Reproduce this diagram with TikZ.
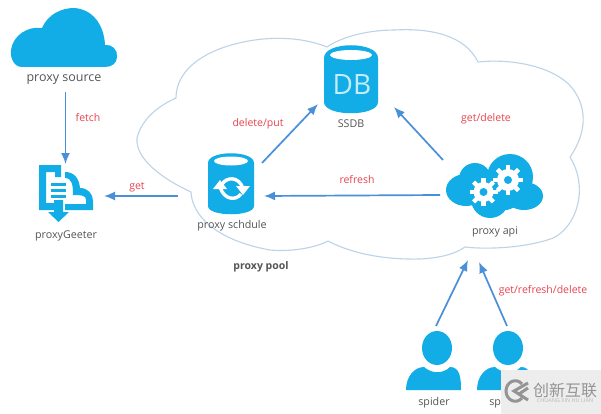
\documentclass[tikz,border=0pt]{standalone}
\usepackage{fontspec}
\setmainfont{Open Sans}
\newfontfamily\cjkfont{Noto Sans CJK SC}
\usetikzlibrary{arrows.meta}
\definecolor{iconblue}{HTML}{12ADE6}
\definecolor{arrowblue}{HTML}{4A90D9}
\definecolor{cloudline}{HTML}{BCD3E8}
\definecolor{redlabel}{HTML}{E8434F}
\definecolor{greylabel}{HTML}{555555}
\tikzset{
  flow/.style={draw=arrowblue,line width=1.7pt,-{Latex[length=11pt,width=9pt]}},
  edgelabel/.style={text=redlabel,font=\fontsize{10.5}{12}\selectfont,inner sep=0pt},
  iconlabel/.style={text=greylabel,font=\fontsize{10.7}{12}\selectfont,inner sep=0pt}
}
\begin{document}
\begin{tikzpicture}[x=1pt,y=-1pt]
\useasboundingbox (0,0) rectangle (601,414);
\fill[white] (0,0) rectangle (601,414);
% big cloud
\draw[cloudline,line width=1.1pt]
 (327,47) .. controls (300,36) and (265,36) .. (235,44)
 .. controls (200,53) and (176,72) .. (176,98)
 .. controls (160,105) and (142,118) .. (137,138)
 .. controls (135,160) and (165,180) .. (191,192)
 .. controls (192,215) and (215,240) .. (270,250)
 .. controls (290,252) and (315,248) .. (328,241)
 .. controls (345,250) and (375,260) .. (420,259)
 .. controls (440,258) and (455,254) .. (465,247)
 .. controls (490,250) and (530,247) .. (553,238)
 .. controls (575,228) and (590,190) .. (570,157)
 .. controls (582,140) and (590,115) .. (575,92)
 .. controls (560,68) and (515,58) .. (478,62)
 .. controls (465,35) and (430,28) .. (395,30)
 .. controls (365,30) and (340,38) .. (327,47);
% proxy source cloud
\fill[iconblue] (22,67) .. controls (14,67) and (10,58) .. (11,50)
 .. controls (13,35) and (28,26) .. (42,28)
 .. controls (48,14) and (62,8) .. (74,8)
 .. controls (92,9) and (104,24) .. (105,45)
 .. controls (112,44) and (118,50) .. (117,57)
 .. controls (117,63) and (112,67) .. (105,67) -- cycle;
\node[iconlabel,font=\fontsize{12.5}{14}\selectfont] (source) at (64,80) {proxy source};
\coordinate (sourceout) at (65.5,92);
% proxyGeeter icon
\fill[iconblue] (39,165) -- (61,165) -- (61,177) -- (55,177) -- (55,172) -- (46,172) -- (46,203) -- (56,203) -- (56,210) -- (39,210) -- cycle;
\fill[iconblue] (65,172) .. controls (74,172) and (79,178) .. (80,188)
 .. controls (88,188) and (93,194) .. (93,201) -- (93,210) -- (65,210) -- (65,204) -- (86,204) -- (86,200) .. controls (86,196) and (83,195) .. (73,195)
 .. controls (73,185) and (72,178) .. (65,178) -- cycle;
\fill[iconblue] (51,182.5) rectangle (66,185.5);
\fill[iconblue] (51,188.5) rectangle (66,191.5);
\fill[iconblue] (51,194.5) rectangle (66,197.5);
\fill[iconblue] (54,200) -- (63,200) -- (63,212) -- (69,212) -- (58.5,222) -- (48,212) -- (54,212) -- cycle;
\node[iconlabel] (geeter) at (66,236) {proxyGeeter};
\coordinate (geeterin) at (65.5,164);
\coordinate (geeterout) at (104,196);
% schedule icon
\fill[iconblue] (208,163) .. controls (208,150) and (254,150) .. (254,163) -- (254,206) .. controls (254,217) and (208,217) .. (208,206) -- cycle;
\fill[white] (231,161) ellipse (17pt and 4.5pt);
\draw[white,line width=3.4pt] (222,184) .. controls (227,177) and (238,176) .. (243,188);
\draw[white,line width=3.4pt] (241,194) .. controls (236,201) and (224,200) .. (220,187);
\fill[white] (236,186) -- (250,186) -- (243,195) -- cycle;
\fill[white] (213,189) -- (227,189) -- (220,180) -- cycle;
\node[iconlabel] (schedule) at (232,226) {proxy schdule};
\coordinate (schedleft) at (178,196);
\coordinate (schedright) at (264,196);
\coordinate (schedtop) at (262,163);
% SSDB
\fill[iconblue] (324,58) .. controls (324,41) and (378,41) .. (378,58) -- (378,102) .. controls (378,117) and (324,117) .. (324,102) -- cycle;
\fill[white] (351,55) ellipse (21pt and 5pt);
\node[text=white!75!iconblue,font=\fontsize{28}{30}\selectfont,inner sep=0pt] (dblabel) at (352,85) {DB};
\node[iconlabel] (ssdb) at (351,124) {SSDB};
\coordinate (ssdbleft) at (318,104);
\coordinate (ssdbright) at (394,107);
% api cloud
\fill[iconblue] (466,190) ellipse (20pt and 16pt);
\fill[iconblue] (475,179) circle (16);
\fill[iconblue] (510,177) circle (23);
\fill[iconblue] (524,196) ellipse (19pt and 14pt);
\fill[iconblue] (490,199) circle (19);
\fill[iconblue] (505,195) circle (15);
\foreach \cx/\cy/\r in {483.5/192/10,508/180/11}{
  \fill[white] (\cx,\cy) circle (\r);
  \foreach \a in {0,45,...,315}{
    \fill[white,rotate around={\a:(\cx,\cy)}] (\cx-2.2,\cy-\r-4) rectangle (\cx+2.2,\cy);
  }
  \fill[iconblue] (\cx,\cy) circle (4);
}
\node[iconlabel] (api) at (495,232) {proxy api};
\coordinate (apileft) at (440,195);
\coordinate (apitop) at (443,160);
\coordinate (apibottomL) at (468,260);
\coordinate (apibottomR) at (479,262);
% pool label
\node[text=greylabel,font=\bfseries\fontsize{10.5}{12}\selectfont,inner sep=0pt] (pool) at (261,267) {proxy pool};
% spiders
\fill[iconblue] (437,348) ellipse (15pt and 17pt);
\fill[iconblue] (406,390) .. controls (406,377) and (414,367) .. (424,367) .. controls (432,374) and (443,374) .. (450,367) .. controls (460,367) and (461,378) .. (461,390) -- cycle;
\fill[iconblue] (508,348) ellipse (15pt and 17pt);
\fill[iconblue] (477,390) .. controls (477,377) and (485,367) .. (495,367) .. controls (503,374) and (514,374) .. (521,367) .. controls (531,367) and (532,378) .. (532,390) -- cycle;
\node[iconlabel] (spiderA) at (434,403) {spider};
\coordinate (spiderAtop) at (436,326);
\node[iconlabel] (spiderB) at (505,403) {spider};
\coordinate (spiderBtop) at (507,326);
% connectors
\draw[flow] (sourceout) -- (geeterin);
\draw[flow] (schedleft) -- (geeterout);
\draw[flow] (schedtop) -- (ssdbleft);
\draw[flow] (apileft) -- (schedright);
\draw[flow] (apitop) -- (ssdbright);
\draw[flow] (spiderAtop) -- (apibottomL);
\draw[flow] (spiderBtop) -- (apibottomR);
% edge labels
\node[edgelabel] (lfetch) at (88,118) {fetch};
\node[edgelabel] (lget) at (137,187) {get};
\node[edgelabel] (ldelput) at (258,124) {delete/put};
\node[edgelabel] (lrefresh) at (357,180) {refresh};
\node[edgelabel] (lgetdel) at (486,119) {get/delete};
\node[edgelabel] (lgrd) at (543,291) {get/refresh/delete};
% watermark
\fill[white!93!black] (501,370) rectangle (601,414);
\draw[white!58!black,line width=3pt] (522,384) .. controls (516,377) and (506,382) .. (506,391) .. controls (506,400) and (516,405) .. (522,398);
\draw[white!58!black,line width=3pt] (528,383) -- (514,391) -- (528,400) (519,394) -- (528,388);
\node[text=white!58!black,font=\cjkfont\fontsize{16}{18}\selectfont,inner sep=0pt] (wm) at (565,390) {创新互联};
\node[text=white!72!black,font=\fontsize{5.5}{6}\selectfont,inner sep=0pt] (wmsub) at (565,401) {CHUANG XIN HU LIAN};
\end{tikzpicture}
\end{document}
